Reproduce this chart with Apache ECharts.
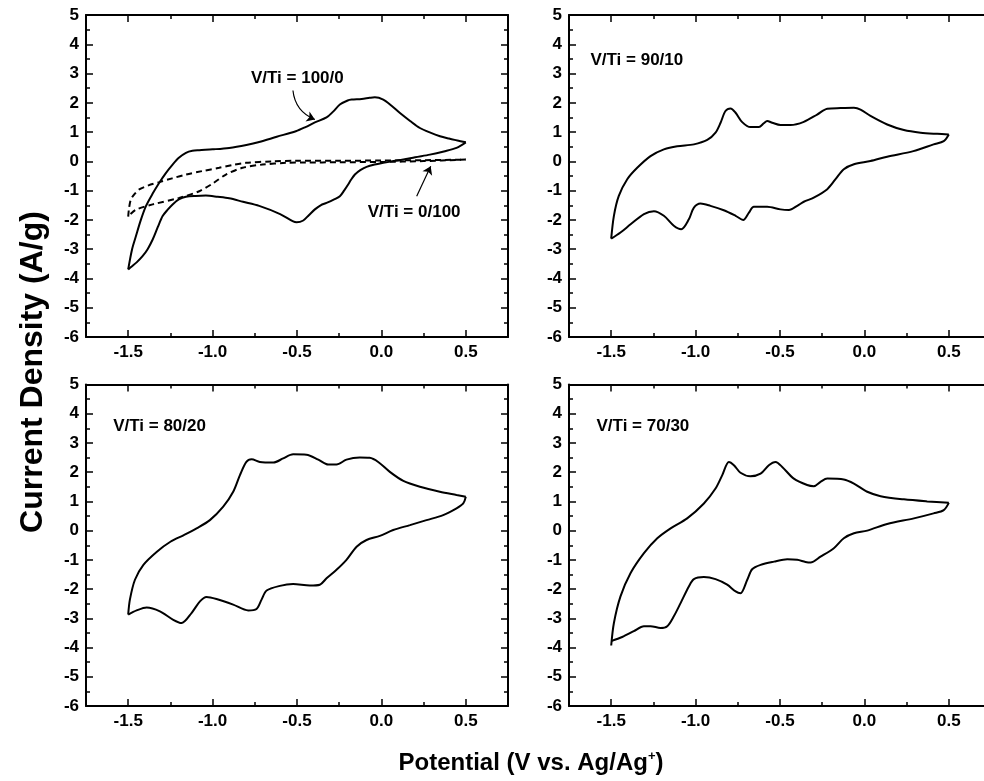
<!DOCTYPE html>
<html><head><meta charset="utf-8">
<script src="https://cdn.jsdelivr.net/npm/echarts@6/dist/echarts.min.js"></script>
<style>html,body{margin:0;padding:0;background:#fff}#c{width:984px;height:781px}</style>
</head><body><div id="c"></div>
<script>
// ---- data (x: potential V, y: current density A/g) ----
const majorX = [-1.5, -1.0, -0.5, 0.0, 0.5];
const minorX = [-1.25, -0.75, -0.25, 0.25];
const panelLabels = ['V/Ti = 100/0', 'V/Ti = 0/100', 'V/Ti = 90/10', 'V/Ti = 80/20', 'V/Ti = 70/30'];

const tl100Anodic = [[-1.5,-3.69],[-1.477,-3.0],[-1.454,-2.55],[-1.425,-2.0],[-1.395,-1.53],[-1.355,-1.1],[-1.316,-0.73],[-1.277,-0.4],[-1.237,-0.11],[-1.2,0.12],[-1.158,0.29],[-1.12,0.36],[-1.079,0.38],[-1.0,0.41],[-0.902,0.46],[-0.8,0.56],[-0.724,0.66],[-0.62,0.84],[-0.507,1.03],[-0.45,1.17],[-0.394,1.33],[-0.325,1.5],[-0.286,1.7],[-0.246,1.94],[-0.2,2.08],[-0.176,2.11],[-0.117,2.13],[-0.07,2.17],[-0.039,2.19],[0.011,2.11],[0.06,1.9],[0.11,1.65],[0.17,1.38],[0.228,1.14],[0.29,0.98],[0.347,0.86],[0.4,0.78],[0.445,0.72],[0.5,0.65]];
const tl100Cathodic = [[0.5,0.65],[0.445,0.46],[0.37,0.34],[0.287,0.23],[0.2,0.14],[0.13,0.06],[0.06,0.0],[0.011,-0.05],[-0.04,-0.11],[-0.088,-0.19],[-0.125,-0.3],[-0.157,-0.45],[-0.18,-0.63],[-0.197,-0.79],[-0.22,-0.99],[-0.246,-1.19],[-0.28,-1.3],[-0.325,-1.42],[-0.36,-1.5],[-0.394,-1.64],[-0.43,-1.84],[-0.463,-2.02],[-0.502,-2.08],[-0.526,-2.04],[-0.6,-1.8],[-0.724,-1.52],[-0.82,-1.38],[-0.902,-1.26],[-0.97,-1.21],[-1.04,-1.17],[-1.1,-1.18],[-1.158,-1.21],[-1.2,-1.3],[-1.237,-1.47],[-1.266,-1.65],[-1.296,-1.87],[-1.325,-2.25],[-1.355,-2.67],[-1.385,-3.0],[-1.415,-3.24],[-1.45,-3.45],[-1.477,-3.58],[-1.5,-3.69]];
const tl0Anodic = [[-1.5,-1.89],[-1.495,-1.6],[-1.484,-1.3],[-1.46,-1.1],[-1.435,-0.96],[-1.38,-0.82],[-1.316,-0.71],[-1.24,-0.58],[-1.158,-0.45],[-1.06,-0.33],[-0.961,-0.22],[-0.88,-0.12],[-0.803,-0.05],[-0.645,0.0],[-0.5,0.02],[-0.25,0.02],[0.0,0.03],[0.25,0.04],[0.5,0.06]];
const tl0Cathodic = [[0.5,0.06],[0.25,0.01],[0.0,-0.02],[-0.25,-0.03],[-0.45,-0.04],[-0.566,-0.05],[-0.704,-0.11],[-0.822,-0.22],[-0.921,-0.45],[-1.0,-0.76],[-1.079,-1.02],[-1.198,-1.25],[-1.355,-1.47],[-1.454,-1.65],[-1.49,-1.82],[-1.5,-1.89]];

const tr90Anodic = [[-1.5,-2.64],[-1.484,-1.86],[-1.455,-1.18],[-1.405,-0.61],[-1.346,-0.22],[-1.267,0.18],[-1.188,0.41],[-1.109,0.52],[-1.01,0.58],[-0.931,0.73],[-0.882,0.98],[-0.852,1.32],[-0.823,1.72],[-0.793,1.81],[-0.763,1.66],[-0.724,1.34],[-0.675,1.17],[-0.625,1.17],[-0.596,1.3],[-0.576,1.38],[-0.546,1.32],[-0.497,1.24],[-0.438,1.24],[-0.359,1.35],[-0.28,1.6],[-0.22,1.8],[-0.141,1.82],[-0.062,1.83],[-0.023,1.77],[0.036,1.55],[0.135,1.26],[0.234,1.07],[0.333,0.98],[0.431,0.94],[0.5,0.92]];
const tr90Cathodic = [[0.5,0.92],[0.47,0.69],[0.41,0.58],[0.29,0.35],[0.135,0.16],[0.036,0.01],[-0.062,-0.1],[-0.122,-0.27],[-0.171,-0.61],[-0.22,-0.95],[-0.3,-1.24],[-0.359,-1.38],[-0.398,-1.52],[-0.447,-1.66],[-0.497,-1.64],[-0.576,-1.55],[-0.655,-1.55],[-0.684,-1.75],[-0.718,-2.0],[-0.763,-1.86],[-0.833,-1.67],[-0.912,-1.52],[-0.971,-1.44],[-1.01,-1.58],[-1.04,-1.98],[-1.085,-2.32],[-1.129,-2.2],[-1.188,-1.86],[-1.247,-1.7],[-1.306,-1.8],[-1.385,-2.15],[-1.445,-2.43],[-1.5,-2.64]];

const bl80Anodic = [[-1.5,-2.87],[-1.49,-2.36],[-1.46,-1.68],[-1.41,-1.17],[-1.33,-0.72],[-1.25,-0.38],[-1.17,-0.15],[-1.095,0.08],[-1.016,0.36],[-0.937,0.82],[-0.878,1.33],[-0.838,1.9],[-0.8,2.35],[-0.769,2.44],[-0.72,2.35],[-0.64,2.33],[-0.582,2.47],[-0.523,2.61],[-0.444,2.6],[-0.374,2.43],[-0.315,2.26],[-0.266,2.26],[-0.207,2.43],[-0.128,2.5],[-0.07,2.49],[-0.019,2.35],[0.05,2.01],[0.13,1.7],[0.228,1.5],[0.346,1.33],[0.445,1.22],[0.5,1.16]];
const bl80Cathodic = [[0.5,1.16],[0.485,0.93],[0.445,0.76],[0.366,0.53],[0.267,0.36],[0.169,0.19],[0.07,0.02],[-0.009,-0.18],[-0.088,-0.32],[-0.147,-0.55],[-0.207,-1.0],[-0.266,-1.34],[-0.325,-1.63],[-0.365,-1.85],[-0.424,-1.88],[-0.523,-1.83],[-0.601,-1.89],[-0.68,-2.05],[-0.71,-2.36],[-0.74,-2.68],[-0.789,-2.73],[-0.878,-2.53],[-0.977,-2.34],[-1.036,-2.27],[-1.075,-2.42],[-1.125,-2.82],[-1.184,-3.16],[-1.233,-3.05],[-1.312,-2.76],[-1.391,-2.63],[-1.45,-2.73],[-1.5,-2.87]];

const br70Anodic = [[-1.5,-3.93],[-1.484,-3.16],[-1.445,-2.25],[-1.385,-1.45],[-1.306,-0.77],[-1.227,-0.26],[-1.148,0.08],[-1.05,0.42],[-0.951,0.93],[-0.882,1.44],[-0.842,1.9],[-0.803,2.35],[-0.773,2.24],[-0.734,1.98],[-0.675,1.86],[-0.615,1.95],[-0.566,2.24],[-0.526,2.35],[-0.487,2.18],[-0.418,1.78],[-0.339,1.56],[-0.3,1.52],[-0.26,1.67],[-0.22,1.78],[-0.122,1.75],[-0.062,1.61],[0.017,1.33],[0.096,1.18],[0.234,1.07],[0.372,1.0],[0.5,0.95]];
const br70Cathodic = [[0.5,0.95],[0.47,0.7],[0.41,0.59],[0.293,0.42],[0.135,0.23],[0.017,0.0],[-0.062,-0.09],[-0.122,-0.26],[-0.181,-0.6],[-0.26,-0.89],[-0.319,-1.09],[-0.349,-1.07],[-0.398,-1.0],[-0.457,-0.98],[-0.536,-1.06],[-0.615,-1.17],[-0.665,-1.32],[-0.694,-1.68],[-0.734,-2.14],[-0.763,-2.08],[-0.813,-1.85],[-0.882,-1.66],[-0.951,-1.59],[-1.01,-1.66],[-1.04,-1.91],[-1.089,-2.48],[-1.129,-2.93],[-1.168,-3.27],[-1.208,-3.33],[-1.267,-3.27],[-1.306,-3.27],[-1.366,-3.44],[-1.435,-3.64],[-1.5,-3.78]];

// annotation anchors (data coords) and arrows
const arrow100 = [[-0.524, 2.42], [-0.394, 1.43]];
const arrow0 = [[0.209, -1.19], [0.292, -0.17]];

// ---- layout ----
const FONT = 'Liberation Sans, Arial, sans-serif';
const grids = [
  {left: 86, top: 15, width: 422, height: 322},
  {left: 569, top: 15, width: 422, height: 322},
  {left: 86, top: 384.5, width: 422, height: 321.5},
  {left: 569, top: 384.5, width: 422, height: 321.5}
];
const black = '#000';
const xAxes = [], yAxes = [];
grids.forEach((g, i) => {
  const base = {type: 'value', gridIndex: i, min: -1.75, max: 0.75, splitLine: {show: false}};
  xAxes.push(Object.assign({}, base, {position: 'bottom',
    axisLine: {show: true, onZero: false, lineStyle: {color: black, width: 2}},
    axisTick: {show: true, inside: true, length: 7, customValues: majorX, lineStyle: {color: black, width: 1.5}},
    axisLabel: {show: true, customValues: majorX, formatter: v => v.toFixed(1), color: black, fontSize: 17, fontWeight: 'bold', fontFamily: FONT, margin: 7}}));
  xAxes.push(Object.assign({}, base, {position: 'bottom',
    axisLine: {show: false, onZero: false},
    axisTick: {show: true, inside: true, length: 4, customValues: minorX, lineStyle: {color: black, width: 1.5}},
    axisLabel: {show: false}}));
  xAxes.push(Object.assign({}, base, {position: 'top',
    axisLine: {show: true, onZero: false, lineStyle: {color: black, width: 2}},
    axisTick: {show: true, inside: true, length: 7, customValues: majorX, lineStyle: {color: black, width: 1.5}},
    axisLabel: {show: false}}));
  xAxes.push(Object.assign({}, base, {position: 'top',
    axisLine: {show: false, onZero: false},
    axisTick: {show: true, inside: true, length: 4, customValues: minorX, lineStyle: {color: black, width: 1.5}},
    axisLabel: {show: false}}));
  const ybase = {type: 'value', gridIndex: i, min: -6, max: 5, interval: 1, splitLine: {show: false},
    axisLine: {show: true, onZero: false, lineStyle: {color: black, width: 2}},
    axisTick: {show: true, inside: true, length: 7, lineStyle: {color: black, width: 1.5}},
    minorTick: {show: true, splitNumber: 2, length: 4, lineStyle: {color: black, width: 1.5}},
    minorSplitLine: {show: false}};
  yAxes.push(Object.assign({}, ybase, {position: 'left',
    axisLabel: {show: true, color: black, fontSize: 17, fontWeight: 'bold', fontFamily: FONT, margin: 7}}));
  yAxes.push(Object.assign({}, ybase, {position: 'right', axisLabel: {show: false}}));
});

function curve(data, i, dashed) {
  return {type: 'line', xAxisIndex: i * 4, yAxisIndex: i * 2, data: data, showSymbol: false, symbol: 'none',
    smooth: 0.3, silent: true, animation: false,
    lineStyle: {color: black, width: 2, type: dashed ? [6, 4] : 'solid'}};
}
const series = [
  curve(tl100Anodic, 0), curve(tl100Cathodic, 0),
  curve(tl0Anodic, 0, true), curve(tl0Cathodic, 0, true),
  curve(tr90Anodic, 1), curve(tr90Cathodic, 1),
  curve(bl80Anodic, 2), curve(bl80Cathodic, 2),
  curve(br70Anodic, 3), curve(br70Cathodic, 3),
  {type: 'lines', coordinateSystem: 'cartesian2d', xAxisIndex: 0, yAxisIndex: 0, silent: true, animation: false,
    symbol: ['none', 'arrow'], symbolSize: 8,
    lineStyle: {color: black, width: 1.2, curveness: -0.3, opacity: 1},
    data: [{coords: arrow100}]},
  {type: 'lines', coordinateSystem: 'cartesian2d', xAxisIndex: 0, yAxisIndex: 0, silent: true, animation: false,
    symbol: ['none', 'arrow'], symbolSize: 8,
    lineStyle: {color: black, width: 1.2, curveness: 0, opacity: 1},
    data: [{coords: arrow0}]}
];

const chart = echarts.init(document.getElementById('c'), null, {renderer: 'canvas'});
chart.setOption({
  animation: false,
  backgroundColor: '#fff',
  grid: grids.map(g => Object.assign({containLabel: false, outerBoundsMode: 'none'}, g)),
  xAxis: xAxes, yAxis: yAxes, series: series
});

// annotation texts placed through the axes' own scales
const notes = [
  {grid: 0, at: [-0.498, 2.83], text: panelLabels[0], align: 'center'},
  {grid: 0, at: [0.194, -1.75], text: panelLabels[1], align: 'center'},
  {grid: 1, at: [-1.623, 3.44], text: panelLabels[2], align: 'left'},
  {grid: 2, at: [-1.589, 3.58], text: panelLabels[3], align: 'left'},
  {grid: 3, at: [-1.587, 3.58], text: panelLabels[4], align: 'left'}
];
const graphics = notes.map(n => {
  const p = chart.convertToPixel({xAxisIndex: n.grid * 4, yAxisIndex: n.grid * 2}, n.at);
  return {type: 'text', x: p[0], y: p[1], silent: true,
    style: {text: n.text, fill: black, font: 'bold 17px ' + FONT, textAlign: n.align, textVerticalAlign: 'middle'}};
});
graphics.push({type: 'text', x: 33, y: 372, rotation: Math.PI / 2, silent: true,
  style: {text: 'Current Density (A/g)', fill: black, font: 'bold 32px ' + FONT, textAlign: 'center', textVerticalAlign: 'middle'}});
graphics.push({type: 'text', x: 531, y: 763, silent: true,
  style: {text: 'Potential (V vs. Ag/Ag{sup|+})', fill: black, font: 'bold 24px ' + FONT, textAlign: 'center', textVerticalAlign: 'middle',
    rich: {sup: {fontSize: 13, fontWeight: 'bold', fontFamily: FONT, fill: black, padding: [0, 0, 14, 0]}}}});
chart.setOption({graphic: graphics});
</script>
</body></html>
